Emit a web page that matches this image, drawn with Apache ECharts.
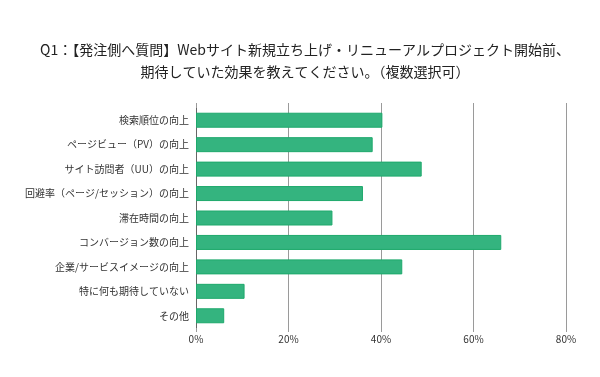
<!DOCTYPE html>
<html>
<head>
<meta charset="utf-8">
<script src="https://cdn.jsdelivr.net/npm/echarts@6/dist/echarts.min.js"></script>
<style>
  html, body { margin: 0; padding: 0; background: #fff; }
  #chart { width: 600px; height: 377px; }
</style>
</head>
<body>
<div id="chart"></div>
<script>
// 回答項目
const categories = [
  '検索順位の向上',
  'ページビュー（PV）の向上',
  'サイト訪問者（UU）の向上',
  '回避率（ページ/セッション）の向上',
  '滞在時間の向上',
  'コンバージョン数の向上',
  '企業/サービスイメージの向上',
  '特に何も期待していない',
  'その他'
]
// 割合（%）
const values = [40.3, 38.2, 48.8, 36.1, 29.5, 66.0, 44.6, 10.5, 6.1]
const xTicks = [0, 20, 40, 60, 80]

const font = '"Noto Sans CJK JP", "Noto Sans", sans-serif'
const lineColor = '#9a9a9a'

const chart = echarts.init(document.getElementById('chart'))
chart.setOption({
  animation: false,
  title: {
    text: 'Q1：【発注側へ質問】Webサイト新規立ち上げ・リニューアルプロジェクト開始前、\n期待していた効果を教えてください。（複数選択可）',
    left: 300,
    top: 34,
    textAlign: 'center',
    textStyle: {
      fontFamily: font,
      fontSize: 14,
      fontWeight: 'normal',
      color: '#222',
      lineHeight: 22
    }
  },
  grid: {
    left: 196,
    right: 34,
    top: 108,
    bottom: 49
  },
  xAxis: [
    {
      type: 'value',
      min: xTicks[0],
      max: xTicks[xTicks.length - 1],
      interval: 20,
      axisLine: { show: false },
      axisTick: { show: true, length: 4, lineStyle: { color: lineColor } },
      splitLine: { show: true, lineStyle: { color: lineColor, width: 1 } },
      axisLabel: {
        formatter: '{value}%',
        fontFamily: font,
        fontSize: 10,
        color: '#333',
        margin: 6
      }
    },
    {
      // 上側の目盛り（グリッド線を少し上に伸ばす）
      type: 'value',
      position: 'top',
      min: xTicks[0],
      max: xTicks[xTicks.length - 1],
      interval: 20,
      axisLine: { show: false },
      axisTick: { show: true, length: 5, lineStyle: { color: lineColor } },
      splitLine: { show: false },
      axisLabel: { show: false }
    }
  ],
  yAxis: {
    type: 'category',
    data: categories,
    inverse: true,
    axisLine: { show: true, lineStyle: { color: '#666', width: 1 } },
    axisTick: { show: false },
    axisLabel: {
      fontFamily: font,
      fontSize: 10,
      color: '#333',
      margin: 7
    }
  },
  series: [
    {
      type: 'bar',
      data: values,
      barWidth: 15,
      itemStyle: {
        color: '#34b47f',
        borderColor: '#1ea96c',
        borderWidth: 1
      }
    }
  ]
})
</script>
</body>
</html>
